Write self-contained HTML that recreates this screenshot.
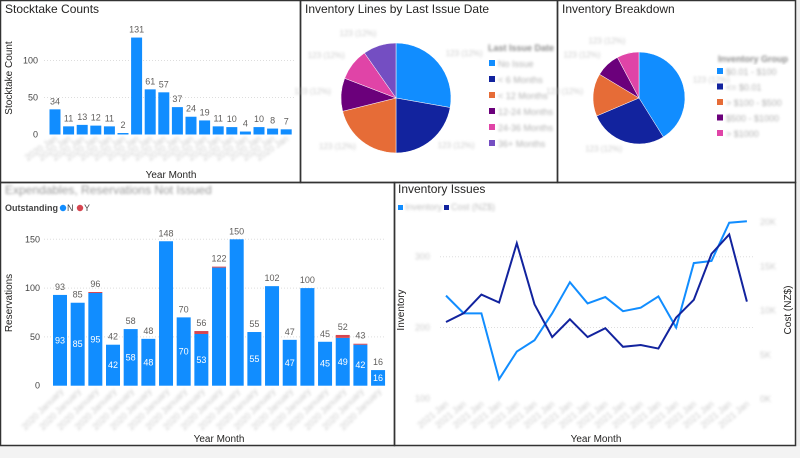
<!DOCTYPE html>
<html><head><meta charset="utf-8"><style>
html,body{margin:0;padding:0;background:#fff;}
svg{display:block;font-family:"Liberation Sans",sans-serif;}
.t{font-size:12px;fill:#252423;}
.lab{font-size:9px;fill:#605e5c;}
.ax{font-size:9px;fill:#444;}
.bl{filter:url(#blur);opacity:0.75;}
</style></head><body>
<svg id="s" width="800" height="458" viewBox="0 0 800 458">
<defs><filter id="blur"><feGaussianBlur stdDeviation="1.3"/></filter></defs>
<rect x="0" y="0" width="800" height="458" fill="#fff"/>
<rect x="0" y="446" width="800" height="12" fill="#f3f3f3"/>
<rect x="796" y="0" width="4" height="446" fill="#eee"/>
<rect x="0.5" y="0.5" width="300" height="182" fill="none" stroke="#333" stroke-width="1.5"/>
<rect x="300.5" y="0.5" width="257" height="182" fill="none" stroke="#333" stroke-width="1.5"/>
<rect x="557.5" y="0.5" width="238" height="182" fill="none" stroke="#333" stroke-width="1.5"/>
<rect x="0.5" y="182.5" width="394" height="263" fill="none" stroke="#333" stroke-width="1.5"/>
<rect x="394.5" y="182.5" width="401" height="263" fill="none" stroke="#333" stroke-width="1.5"/>
<text class="t" x="5" y="13">Stocktake Counts</text>
<text class="t" x="305" y="13">Inventory Lines by Last Issue Date</text>
<text class="t" x="562" y="13">Inventory Breakdown</text>
<text class="t bl" x="5" y="194" style="fill:#777">Expendables, Reservations Not Issued</text>
<text class="t" x="398" y="193">Inventory Issues</text>
<g id="g"></g>
</svg>
<script>
const NS="http://www.w3.org/2000/svg";
const G=document.getElementById('g');
function mk(tag,at,txt){const e=document.createElementNS(NS,tag);for(const k in at)e.setAttribute(k,at[k]);if(txt!==undefined)e.textContent=txt;G.appendChild(e);return e;}

// ---------- Stocktake Counts ----------
const stockValues=[34,11,13,12,11,2,131,61,57,37,24,19,11,10,4,10,8,7];
const stockTicks=[0,50,100];
function sy(v){return 134.5-v*0.74;}
function sx(i){return 55+i*13.6;}
stockTicks.forEach(t=>{
  if(t>0){const l=mk('line',{x1:44,x2:295,y1:sy(t),y2:sy(t),stroke:'#ddd','stroke-dasharray':'1,2'});
  
  }
  const tx=mk('text',{x:38,y:sy(t)+3,'text-anchor':'end',class:'ax'},t);
  
  
});
stockValues.forEach((v,i)=>{
  const b=mk('rect',{x:sx(i)-5.5,y:sy(v),width:11,height:134.5-sy(v),fill:'#118DFF'});
  
  
  const t=mk('text',{x:sx(i),y:sy(v)-5,'text-anchor':'middle',class:'lab'},v);
  
  
  const xl=mk('text',{x:sx(i)+3,y:140,'text-anchor':'end',class:'ax bl',style:'fill:#bbb',transform:`rotate(-35 ${sx(i)+3} 140)`},'2020 Jan');
  
  
});
let e=mk('text',{x:171,y:178,'text-anchor':'middle',class:'t',style:'font-size:10px'},'Year Month');


e=mk('text',{x:12,y:78,'text-anchor':'middle',class:'t',style:'font-size:10px',transform:'rotate(-90 12 78)'},'Stocktake Count');



// ---------- Pies ----------
function pie(cx,cy,r,vals,cols,name){
  const tot=vals.reduce((a,b)=>a+b,0);let a=0;
  vals.forEach((v,i)=>{
    const a0=a/tot*2*Math.PI;a+=v;const a1=a/tot*2*Math.PI;
    const x0=cx+r*Math.sin(a0),y0=cy-r*Math.cos(a0),x1=cx+r*Math.sin(a1),y1=cy-r*Math.cos(a1);
    const p=mk('path',{d:`M${cx},${cy}L${x0},${y0}A${r},${r} 0 ${a1-a0>Math.PI?1:0} 1 ${x1},${y1}Z`,fill:cols[i],stroke:'#fff','stroke-width':0.5});
    
    
    const am=(a0+a1)/2,lx=cx+(r+10)*Math.sin(am),ly=cy-(r+10)*Math.cos(am);
    const lt=mk('text',{x:lx,y:ly,'text-anchor':Math.sin(am)>0?'start':'end',class:'ax bl',style:'fill:#bbb;font-size:8px'},'123 (12%)');
    
    
  });
}
const pieColors=['#118DFF','#12239E','#E66C37','#6B007B','#E044A7','#744EC2'];
const issueCategories=['No Issue','< 6 Months','< 12 Months','12-24 Months','24-36 Months','36+ Months'];
const issueValues=[100,80,76,35,34,35];
pie(396,98,55,issueValues,pieColors,'last-issue');
e=mk('text',{x:488,y:51,class:'ax bl',style:'fill:#666;font-weight:bold'},'Last Issue Date');


issueCategories.forEach((c,i)=>{
  const y=64+i*16;
  const m=mk('rect',{x:489,y:y-4,width:6,height:6,fill:pieColors[i]});
  
  
  const t=mk('text',{x:498,y:y+3,class:'ax bl',style:'fill:#999'},c);
  
  
});
const groupCategories=['$0.01 - $100','<= $0.01','> $100 - $500','$500 - $1000','> $1000'];
const groupValues=[148,99,54,31,28];
pie(639,98,46,groupValues,['#118DFF','#12239E','#E66C37','#6B007B','#E044A7'],'breakdown');
e=mk('text',{x:718,y:62,class:'ax bl',style:'fill:#666;font-weight:bold'},'Inventory Group');


groupCategories.forEach((c,i)=>{
  const y=72+i*15.5;
  const m=mk('rect',{x:717,y:y-4,width:6,height:6,fill:pieColors[i]});
  
  
  const t=mk('text',{x:726,y:y+3,class:'ax bl',style:'fill:#999'},c);
  
  
});

// ---------- Reservations ----------
const resN=[93,85,95,42,58,48,148,70,53,121,150,55,102,47,100,45,49,42,16];
const resY=[0,0,1,0,0,0,0,0,3,1,0,0,0,0,0,0,3,1,0];
const resTicks=[0,50,100,150];
function ry(v){return 385.7-v*0.976;}
function rx(i){return 60+i*17.67;}
resTicks.forEach(t=>{
  if(t>0){const l=mk('line',{x1:44,x2:385,y1:ry(t),y2:ry(t),stroke:'#ddd','stroke-dasharray':'1,2'});
  
  }
  const tx=mk('text',{x:40,y:ry(t)+3,'text-anchor':'end',class:'ax'},t);
  
  
});
resN.forEach((v,i)=>{
  const tot=v+resY[i];
  const b=mk('rect',{x:rx(i)-7,y:ry(v),width:14,height:385.7-ry(v),fill:'#118DFF'});
  
  
  if(resY[i]>0){const r=mk('rect',{x:rx(i)-7,y:ry(tot),width:14,height:ry(v)-ry(tot),fill:'#D64550'});
    
    }
  const t=mk('text',{x:rx(i),y:ry(tot)-5,'text-anchor':'middle',class:'lab'},tot);
  
  
  if(v<100){const it=mk('text',{x:rx(i),y:ry(v/2)+3,'text-anchor':'middle',class:'lab',style:'fill:#fff'},v);
    
    }
  const xl=mk('text',{x:rx(i)+4,y:392,'text-anchor':'end',class:'ax bl',style:'fill:#bbb',transform:`rotate(-45 ${rx(i)+4} 392)`},'2020 January');
  
  
});
e=mk('text',{x:5,y:211,class:'ax',style:'font-weight:bold;fill:#444'},'Outstanding');


e=mk('circle',{cx:63,cy:208,r:3.2,fill:'#118DFF'});


e=mk('text',{x:67,y:211,class:'ax'},'N');


e=mk('circle',{cx:80,cy:208,r:3.2,fill:'#D64550'});


e=mk('text',{x:84,y:211,class:'ax'},'Y');


e=mk('text',{x:219,y:442,'text-anchor':'middle',class:'t',style:'font-size:10px'},'Year Month');


e=mk('text',{x:12,y:303,'text-anchor':'middle',class:'t',style:'font-size:10px',transform:'rotate(-90 12 303)'},'Reservations');



// ---------- Inventory Issues ----------
const invValues=[245,220,220,127,166,182,220,264,234,243,223,228,244,200,291,294,348,350];
const costValues=[8.7,9.7,11.8,10.9,17.6,10.7,7.0,9.0,7.0,8.0,5.9,6.1,5.7,9.2,11.2,16.4,18.6,11.0];
const invTicks=[100,200,300];
const costTicks=[0,5,10,15,20];
function lx(i){return 446+i*17.7;}
function ly(v){return 398.3-(v-100)*0.708;}
function cy(v){return 399-v*8.85;}
invTicks.forEach(t=>{
  if(t>100){const l=mk('line',{x1:440,x2:755,y1:ly(t),y2:ly(t),stroke:'#ddd','stroke-dasharray':'1,2'});
  
  }
  const tx=mk('text',{x:430,y:ly(t)+3,'text-anchor':'end',class:'ax bl',style:'fill:#bbb'},t);
  
  
});
costTicks.forEach(t=>{
  const tx=mk('text',{x:760,y:cy(t)+3,class:'ax bl',style:'fill:#bbb'},t+'K');
  
  
});
invValues.forEach((v,i)=>{
  const xl=mk('text',{x:lx(i)+3,y:405,'text-anchor':'end',class:'ax bl',style:'fill:#bbb',transform:`rotate(-40 ${lx(i)+3} 405)`},'2021 Jan');
  
  
});
e=mk('polyline',{points:invValues.map((v,i)=>lx(i)+','+ly(v)).join(' '),fill:'none',stroke:'#118DFF','stroke-width':2});


e=mk('polyline',{points:costValues.map((v,i)=>lx(i)+','+cy(v)).join(' '),fill:'none',stroke:'#12239E','stroke-width':2});


e=mk('rect',{x:398,y:205,width:5,height:5,fill:'#118DFF'});


e=mk('text',{x:405,y:210,class:'ax bl',style:'fill:#aaa'},'Inventory');


e=mk('rect',{x:444,y:205,width:5,height:5,fill:'#12239E'});


e=mk('text',{x:451,y:210,class:'ax bl',style:'fill:#aaa'},'Cost (NZ$)');


e=mk('text',{x:596,y:442,'text-anchor':'middle',class:'t',style:'font-size:10px'},'Year Month');


e=mk('text',{x:404,y:310,'text-anchor':'middle',class:'t',style:'font-size:10px',transform:'rotate(-90 404 310)'},'Inventory');


e=mk('text',{x:791,y:310,'text-anchor':'middle',class:'t',style:'font-size:10px',transform:'rotate(-90 791 310)'},'Cost (NZ$)');


</script>
</body></html>
